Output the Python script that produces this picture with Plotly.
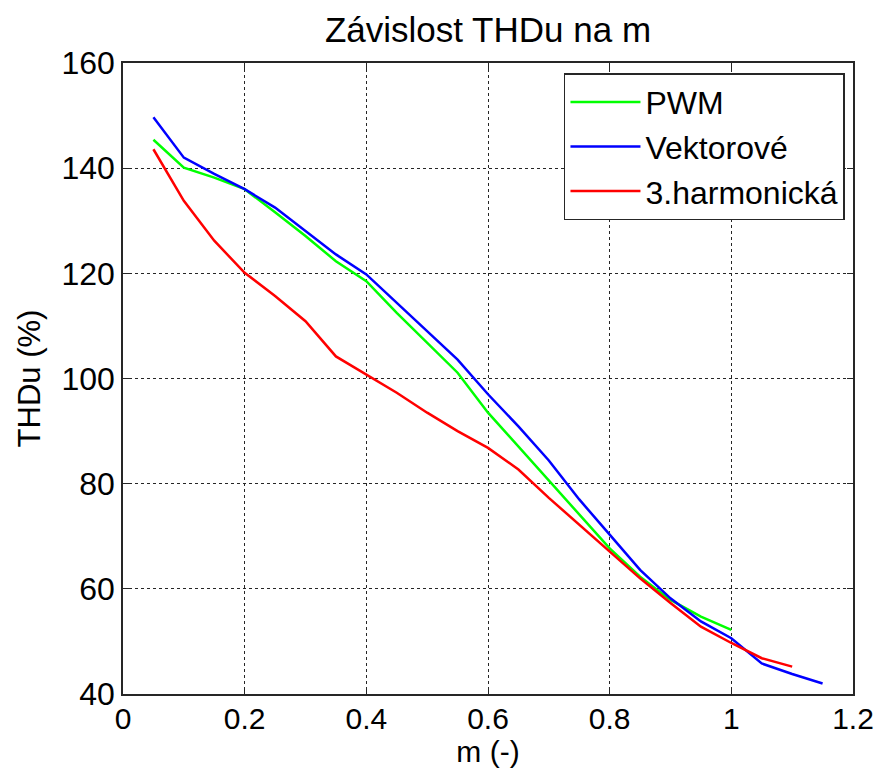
import plotly.graph_objects as go

m_pwm = [0.05, 0.1, 0.15, 0.2, 0.25, 0.3, 0.35, 0.4, 0.45, 0.5, 0.55, 0.6, 0.65, 0.7, 0.75, 0.8, 0.85, 0.9, 0.95, 1.0]
thd_pwm = [145.4, 140.1, 138.2, 136.0, 131.6, 127.1, 122.3, 118.5, 112.5, 106.8, 101.1, 93.5, 87.1, 80.5, 74.1, 67.7, 62.3, 57.9, 54.7, 52.2]

m_vek = [0.05, 0.1, 0.15, 0.2, 0.25, 0.3, 0.35, 0.4, 0.45, 0.5, 0.55, 0.6, 0.65, 0.7, 0.75, 0.8, 0.85, 0.9, 0.95, 1.0, 1.05, 1.1, 1.15]
thd_vek = [149.7, 142.0, 138.9, 136.0, 132.5, 128.1, 123.6, 119.8, 114.4, 109.0, 103.6, 97.0, 90.9, 84.4, 77.0, 70.3, 63.6, 58.2, 53.8, 50.6, 45.8, 43.8, 42.0]

m_h3 = [0.05, 0.1, 0.15, 0.2, 0.25, 0.3, 0.35, 0.4, 0.45, 0.5, 0.55, 0.6, 0.65, 0.7, 0.75, 0.8, 0.85, 0.9, 0.95, 1.0, 1.05, 1.1]
thd_h3 = [143.6, 133.8, 126.2, 120.1, 115.7, 110.9, 104.2, 100.8, 97.3, 93.5, 90.0, 86.8, 82.7, 77.3, 72.2, 67.1, 62.0, 57.3, 52.8, 49.7, 46.8, 45.2]

x_ticks = [0, 0.2, 0.4, 0.6, 0.8, 1, 1.2]
x_tick_text = ["0", "0.2", "0.4", "0.6", "0.8", "1", "1.2"]
y_ticks = [40, 60, 80, 100, 120, 140, 160]

FONT = "Liberation Sans, Arial, sans-serif"

fig = go.Figure()
fig.add_trace(go.Scatter(x=m_pwm, y=thd_pwm, mode="lines", name="PWM",
                         line=dict(color="#00ff00", width=2.5)))
fig.add_trace(go.Scatter(x=m_vek, y=thd_vek, mode="lines", name="Vektorové",
                         line=dict(color="#0000ff", width=2.5)))
fig.add_trace(go.Scatter(x=m_h3, y=thd_h3, mode="lines", name="3.harmonická",
                         line=dict(color="#ff0000", width=2.5)))

axis_common = dict(
    showline=True, linecolor="#262626", linewidth=1.5, mirror="ticks",
    ticks="inside", ticklen=6, tickcolor="#262626", tickwidth=1,
    showgrid=True, gridcolor="#262626", gridwidth=1, griddash="dot",
    zeroline=False, automargin=False,
)

fig.update_xaxes(range=[0, 1.2], tickvals=x_ticks, ticktext=x_tick_text,
                 tickfont=dict(family=FONT, size=30, color="#000"), ticklabelstandoff=-3,
                 title=dict(text="m (-)", font=dict(family=FONT, size=30, color="#000"), standoff=2),
                 **axis_common)
fig.update_yaxes(range=[40, 160], tickvals=y_ticks,
                 tickfont=dict(family=FONT, size=32, color="#000"),
                 title=dict(text="THDu (%)", font=dict(family=FONT, size=31, color="#000"), standoff=12),
                 **axis_common)

fig.update_layout(
    width=881, height=771,
    margin=dict(l=123, r=28, t=63, b=77),
    paper_bgcolor="white", plot_bgcolor="white",
    title=dict(text="Závislost THDu na m", font=dict(family=FONT, size=35, color="#000"),
               x=0.5, xanchor="center", xref="paper", y=1 - 30 / 771, yanchor="middle", yref="container"),
    legend=dict(x=0.989, y=0.984, xanchor="right", yanchor="top",
                bgcolor="white", bordercolor="#262626", borderwidth=1.5,
                font=dict(family=FONT, size=32, color="#000"), tracegroupgap=0,
                itemwidth=70),
    showlegend=True,
)

fig.write_html("out.html")
